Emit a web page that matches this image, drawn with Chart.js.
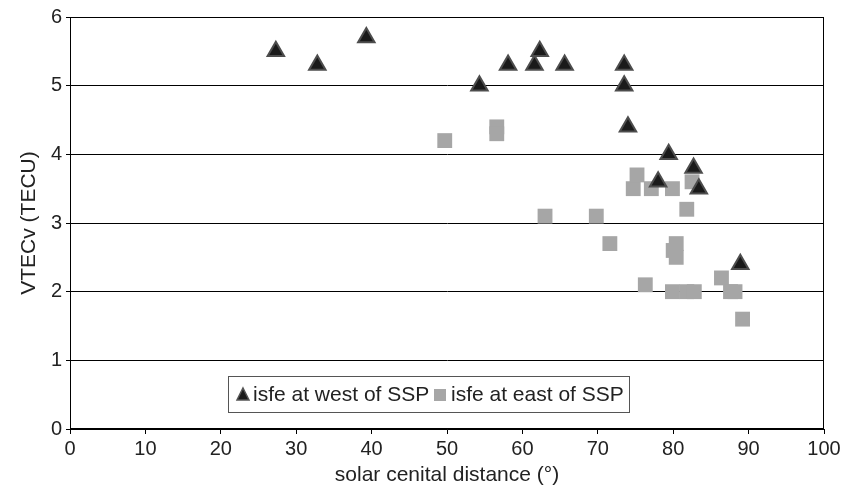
<!DOCTYPE html>
<html>
<head>
<meta charset="utf-8">
<script src="https://cdn.jsdelivr.net/npm/chart.js@4.4.0/dist/chart.umd.min.js"></script>
<style>
  html, body { margin: 0; padding: 0; background: #fff; }
  #wrap { width: 845px; height: 491px; }
</style>
</head>
<body>
<div id="wrap"><canvas id="chart"></canvas></div>
<script>
// west of SSP (triangles)
const westX = [27.3, 32.8, 39.3, 54.3, 58.1, 61.6, 62.3, 65.6, 73.5, 73.5, 74.0, 79.4, 78.0, 82.7, 83.4, 88.9];
const westY = [5.5, 5.3, 5.7, 5.0, 5.3, 5.3, 5.5, 5.3, 5.3, 5.0, 4.4, 4.0, 3.6, 3.8, 3.5, 2.4];

// east of SSP (squares)
const eastX = [49.7, 56.6, 56.6, 63.0, 69.8, 71.6, 74.7, 75.2, 77.1, 79.9, 82.5, 81.8, 76.3, 80.0, 80.4, 80.4, 79.9, 81.8, 82.8, 86.4, 87.6, 88.2, 89.2];
const eastY = [4.2, 4.4, 4.3, 3.1, 3.1, 2.7, 3.5, 3.7, 3.5, 3.5, 3.6, 3.2, 2.1, 2.6, 2.5, 2.7, 2.0, 2.0, 2.0, 2.2, 2.0, 2.0, 1.6];

const xTicks = [0, 10, 20, 30, 40, 50, 60, 70, 80, 90, 100];
const yTicks = [0, 1, 2, 3, 4, 5, 6];

const seriesNames = ["isfe at west of SSP", "isfe at east of SSP"];

const FONT = "'Liberation Sans', Arial, sans-serif";

function toPoints(xs, ys) {
  return xs.map((x, i) => ({ x: x, y: ys[i] }));
}

// frame around the plot area + legend box inside it
const framePlugin = {
  id: "frame",
  afterDraw(chart) {
    const { ctx, chartArea: a } = chart;
    ctx.save();
    ctx.strokeStyle = "#000";
    ctx.lineWidth = 1;
    ctx.strokeRect(a.left + 0.5, a.top + 0.5, a.right - a.left - 1, a.bottom - a.top - 1);

    // legend
    const lx = 228, ly = 376, lw = 401, lh = 36;
    ctx.fillStyle = "#fff";
    ctx.fillRect(lx, ly, lw, lh);
    ctx.strokeStyle = "#555";
    ctx.strokeRect(lx + 0.5, ly + 0.5, lw, lh);
    const cy = ly + lh / 2 + 1;

    // triangle marker
    ctx.beginPath();
    ctx.moveTo(243, cy - 7);
    ctx.lineTo(249, cy + 5);
    ctx.lineTo(237, cy + 5);
    ctx.closePath();
    ctx.fillStyle = "#1a1a1a";
    ctx.fill();
    ctx.strokeStyle = "#555";
    ctx.lineWidth = 1.5;
    ctx.stroke();

    // square marker
    ctx.fillStyle = "#a6a6a6";
    ctx.fillRect(434, cy - 6, 12, 12);

    ctx.fillStyle = "#222";
    ctx.font = "21px " + FONT;
    ctx.textBaseline = "middle";
    ctx.fillText(seriesNames[0], 253, cy);
    ctx.fillText(seriesNames[1], 451, cy);
    ctx.restore();
  }
};

new Chart(document.getElementById("chart"), {
  type: "scatter",
  data: {
    datasets: [
      {
        label: seriesNames[1],
        data: toPoints(eastX, eastY),
        pointStyle: "rect",
        pointRadius: 10.5,
        backgroundColor: "#a6a6a6",
        borderColor: "#a6a6a6",
        borderWidth: 0,
        order: 2
      },
      {
        label: seriesNames[0],
        data: toPoints(westX, westY),
        pointStyle: "triangle",
        pointRadius: 9.5,
        backgroundColor: "#1a1a1a",
        borderColor: "#4d4d4d",
        borderWidth: 2,
        order: 1
      }
    ]
  },
  options: {
    responsive: true,
    maintainAspectRatio: false,
    animation: false,
    layout: { padding: { top: 17, right: 21, left: 0, bottom: 0 } },
    plugins: { legend: { display: false }, tooltip: { enabled: false } },
    scales: {
      x: {
        type: "linear",
        min: 0,
        max: 100,
        afterBuildTicks: (s) => { s.ticks = xTicks.map((v) => ({ value: v })); },
        afterFit: (s) => { s.height = 62; },
        grid: { display: true, drawOnChartArea: false, drawTicks: true, tickLength: 5, color: "#000" },
        border: { display: true, color: "#000", width: 1 },
        ticks: { color: "#222", padding: 3, font: { family: FONT, size: 20 }, maxRotation: 0 },
        title: {
          display: true,
          text: "solar cenital distance (°)",
          color: "#222",
          font: { family: FONT, size: 21 },
          padding: { top: 0, bottom: 3 }
        }
      },
      y: {
        type: "linear",
        min: 0,
        max: 6,
        afterBuildTicks: (s) => { s.ticks = yTicks.map((v) => ({ value: v })); },
        afterFit: (s) => { s.width = 70; },
        grid: { display: true, drawTicks: true, tickLength: 4, color: "#000" },
        border: { display: true, color: "#000", width: 1 },
        ticks: { color: "#222", padding: 4, font: { family: FONT, size: 20 } },
        title: {
          display: true,
          text: "VTECv (TECU)",
          color: "#222",
          font: { family: FONT, size: 21 },
          padding: { top: 17, bottom: 0 }
        }
      }
    }
  },
  plugins: [framePlugin]
});
</script>
</body>
</html>
